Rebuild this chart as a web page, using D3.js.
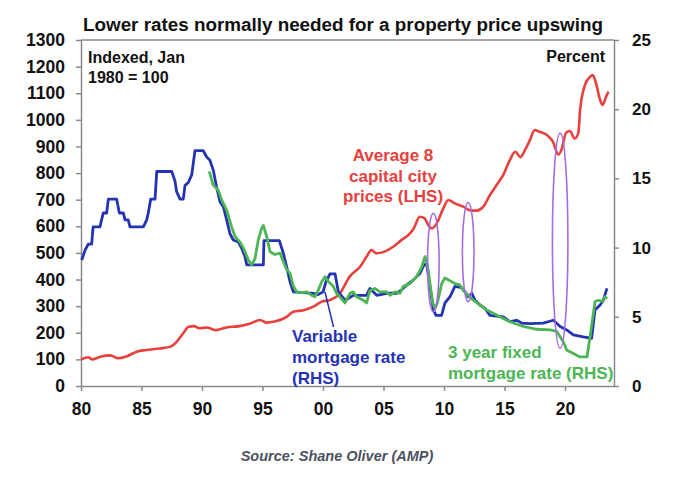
<!DOCTYPE html>
<html><head><meta charset="utf-8">
<script src="https://cdn.jsdelivr.net/npm/d3@7"></script>
<style>
html,body{margin:0;padding:0;background:#fff;}
svg text{font-family:"Liberation Sans",Arial,sans-serif;}
</style></head>
<body><svg id="c" width="675" height="485"></svg>
<script>
// ---- data ----
const priceYears = [1980.0,1980.6,1980.9,1981.6,1982.4,1983.1,1983.8,1984.6,1985.4,1986.5,1987.4,1987.9,1988.45,1988.9,1989.3,1989.8,1990.4,1991.1,1992.0,1993.1,1994.0,1994.8,1995.35,1996.0,1997.0,1997.55,1998.4,1999.2,1999.9,2000.6,2001.4,2002.2,2003.06,2003.6,2004.0,2004.4,2005.1,2005.8,2006.5,2007.05,2007.5,2008.0,2008.4,2008.7,2009.0,2009.4,2009.95,2010.35,2010.9,2011.6,2012.15,2012.7,2013.25,2013.8,2014.35,2014.9,2015.45,2015.9,2016.3,2016.7,2017.1,2017.5,2017.9,2018.5,2019.0,2019.45,2019.7,2020.1,2020.4,2020.8,2021.1,2021.25,2021.65,2022.07,2022.3,2022.6,2022.9,2023.1,2023.45,2023.6];
const priceIndex = [100,108,100,110,115,104,112,129,135,141,148,166,198,223,225,217,220,210,220,225,235,248,238,242,260,279,285,298,317,323,348,411,448,486,511,499,505,523,549,567,592,636,630,605,592,611,668,699,686,674,660,659,674,718,755,793,850,880,860,887,924,962,955,943,918,870,887,952,958,930,950,1037,1131,1162,1168,1131,1075,1056,1093,1106];

const varYears = [1980.06,1980.33,1980.6,1980.88,1981.0,1981.57,1981.7,1981.84,1982.12,1982.26,1982.95,1983.17,1983.5,1983.64,1983.9,1984.05,1985.15,1985.43,1985.56,1985.76,1986.12,1986.26,1987.5,1987.77,1987.9,1988.18,1988.45,1988.6,1988.87,1989.15,1989.28,1989.42,1990.1,1990.39,1990.66,1990.93,1991.2,1991.49,1991.76,1992.04,1992.31,1992.59,1993.0,1993.28,1993.55,1993.7,1995.07,1995.12,1996.39,1996.72,1997.0,1997.27,1997.55,1999.2,1999.6,2000.0,2000.25,2000.58,2001.0,2001.27,2001.82,2002.23,2002.5,2003.6,2003.88,2004.44,2005.26,2006.09,2006.5,2006.92,2007.46,2008.02,2008.35,2008.57,2008.84,2009.12,2009.34,2009.8,2010.08,2010.5,2010.9,2011.46,2011.74,2012.0,2012.3,2012.56,2012.98,2013.4,2013.8,2014.36,2014.9,2015.45,2016.0,2016.42,2017.1,2018.2,2019.04,2019.6,2020.14,2020.69,2021.5,2022.2,2022.48,2022.9,2023.17,2023.47];
const varRate = [9.1,9.8,10.25,10.25,11.5,11.5,12.0,12.5,12.5,13.5,13.5,12.5,12.5,12.0,12.0,11.5,11.5,12.0,12.5,13.5,13.5,15.5,15.5,14.8,14.05,13.5,13.5,14.5,14.7,15.25,16.1,17.0,17.0,16.55,16.3,15.6,14.4,13.3,12.95,12.0,11.0,10.55,10.4,9.95,9.35,8.75,8.75,10.5,10.5,9.6,8.6,7.55,6.8,6.7,6.6,6.8,7.55,8.1,8.1,6.8,6.2,6.4,6.55,6.55,7.05,6.55,6.7,6.7,6.95,7.3,7.65,8.15,8.75,8.8,7.2,5.5,5.1,5.1,6.0,6.45,7.2,7.1,6.8,6.45,6.7,6.2,5.85,5.6,5.1,5.05,5.0,4.65,4.75,4.55,4.5,4.55,4.75,4.3,4.05,3.7,3.55,3.45,5.5,5.85,6.2,7.05];

const fixYears = [1990.6,1990.93,1991.35,1991.63,1992.04,1992.45,1992.73,1993.14,1993.41,1993.83,1994.1,1994.38,1994.65,1994.93,1995.07,1995.35,1995.62,1996.03,1996.45,1996.72,1997.0,1997.27,1997.55,1997.83,1998.24,1998.65,1999.07,1999.34,1999.6,1999.9,2000.17,2000.44,2000.85,2001.13,2001.82,2002.23,2002.5,2002.78,2003.33,2003.6,2003.88,2004.3,2004.7,2005.26,2005.54,2005.95,2006.36,2006.64,2007.19,2007.74,2008.16,2008.43,2008.62,2008.84,2009.07,2009.26,2009.45,2009.81,2010.08,2010.5,2010.9,2011.32,2011.6,2012.0,2012.42,2012.98,2013.53,2014.07,2014.63,2015.18,2015.73,2016.55,2017.66,2018.76,2019.31,2019.86,2020.14,2020.69,2021.24,2021.82,2022.07,2022.48,2022.75,2023.03,2023.3,2023.47];
const fixRate = [15.5,14.5,14.15,13.45,12.7,11.5,10.8,10.4,10.0,9.1,8.75,9.2,10.55,11.4,11.6,10.8,9.7,9.5,9.6,9.0,8.4,8.15,7.2,6.8,6.75,6.8,6.55,6.45,6.9,7.55,7.9,7.55,7.2,6.7,6.0,6.7,6.8,6.45,6.2,6.0,6.9,7.05,6.8,6.8,6.55,6.8,6.7,7.2,7.4,7.9,8.6,9.35,8.8,7.4,6.0,5.6,6.0,7.4,7.8,7.6,7.4,7.3,6.9,6.55,6.2,5.85,5.5,5.25,5.0,4.75,4.55,4.3,4.1,4.05,3.95,3.2,2.6,2.35,2.1,2.1,3.55,6.1,6.2,6.1,6.45,6.3];

// highlight ellipses (year centre, RHS-rate centre, half-width in years, half-height in % points)
const ellYear = [2009.12, 2012.0, 2019.6];
const ellRate = [8.92, 9.68, 10.5];
const ellHalfW = [0.48, 0.48, 0.64];
const ellHalfH = [3.55, 3.58, 7.77];

const xTickYears = [1980,1985,1990,1995,2000,2005,2010,2015,2020];
const xTickLabels = ["80","85","90","95","00","05","10","15","20"];
const lhsTicks = d3.range(0,1301,100);
const rhsTicks = [0,5,10,15,20,25];

// ---- chart ----
const svg = d3.select("#c");
const L = 81, R = 614, T = 40, B = 386;
const x = d3.scaleLinear().domain([1980, 2024.05]).range([L, R]);
const yL = d3.scaleLinear().domain([0, 1300]).range([B, T]);
const yR = d3.scaleLinear().domain([0, 25]).range([B, T]);
const axisCol = "#8a8a8a";

svg.append("text").attr("x", 343).attr("y", 31).attr("text-anchor","middle")
  .attr("font-size", 17.5).attr("font-weight","bold").attr("fill","#111")
  .attr("textLength", 520).attr("lengthAdjust","spacingAndGlyphs")
  .text("Lower rates normally needed for a property price upswing");

// top border
svg.append("line").attr("x1",L).attr("x2",R).attr("y1",T).attr("y2",T).attr("stroke",axisCol).attr("stroke-width",1.5);

function styleAxis(g){
  g.select(".domain").attr("stroke",axisCol).attr("stroke-width",1.5);
  g.selectAll(".tick line").attr("stroke",axisCol).attr("stroke-width",1.5);
  g.selectAll(".tick text").attr("fill","#111").attr("font-weight","bold")
   .attr("font-family","'Liberation Sans',Arial,sans-serif");
}

const gl = svg.append("g").attr("transform",`translate(${L},0)`)
  .call(d3.axisLeft(yL).tickValues(lhsTicks).tickSize(5).tickSizeOuter(0).tickPadding(11).tickFormat(d3.format("d")));
styleAxis(gl); gl.selectAll(".tick text").attr("font-size",17.5);

const gr = svg.append("g").attr("transform",`translate(${R},0)`)
  .call(d3.axisRight(yR).tickValues(rhsTicks).tickSize(5).tickSizeOuter(0).tickPadding(13).tickFormat(d3.format("d")));
styleAxis(gr); gr.selectAll(".tick text").attr("font-size",17);

const gx = svg.append("g").attr("transform",`translate(0,${B})`)
  .call(d3.axisBottom(x).tickValues(xTickYears).tickSize(5).tickSizeOuter(0).tickPadding(12)
    .tickFormat((d,i)=>xTickLabels[i]));
styleAxis(gx); gx.selectAll(".tick text").attr("font-size",17.5);

// lines
const clip = svg.append("g");
const linePrice = d3.line().x((d,i)=>x(priceYears[i])).y(d=>yL(d)).curve(d3.curveMonotoneX);
const lineVar = d3.line().x((d,i)=>x(varYears[i])).y(d=>yR(d));
const lineFix = d3.line().x((d,i)=>x(fixYears[i])).y(d=>yR(d));

clip.append("path").attr("d", linePrice(priceIndex)).attr("fill","none")
  .attr("stroke","#e8403c").attr("stroke-width",2.6).attr("stroke-linejoin","round");
clip.append("path").attr("d", lineVar(varRate)).attr("fill","none")
  .attr("stroke","#2432b4").attr("stroke-width",2.8).attr("stroke-linejoin","round");
clip.append("path").attr("d", lineFix(fixRate)).attr("fill","none")
  .attr("stroke","#4cb554").attr("stroke-width",2.8).attr("stroke-linejoin","round");

// ellipses
ellYear.forEach((yr,i)=>{
  const cx = x(yr), cy = yR(ellRate[i]);
  svg.append("ellipse").attr("cx",cx).attr("cy",cy)
    .attr("rx", x(yr+ellHalfW[i]) - cx).attr("ry", yR(0) - yR(ellHalfH[i]))
    .attr("fill","none").attr("stroke","#a46ee0").attr("stroke-width",1.6);
});

// annotations
function multi(lines, xx, y0, dy, anchor, color, size){
  const t = svg.append("text").attr("text-anchor",anchor).attr("fill",color)
    .attr("font-weight","bold").attr("font-size",size);
  lines.forEach((s,i)=>t.append("tspan").attr("x",xx).attr("y",y0+i*dy).text(s));
}
multi(["Indexed, Jan","1980 = 100"], 88, 63, 20, "start", "#111", 16);
multi(["Percent"], 605, 62, 20, "end", "#111", 16);
multi(["Average 8","capital city","prices (LHS)"], 393, 161, 20.5, "middle", "#e8403c", 17);
multi(["Variable","mortgage rate","(RHS)"], 292, 342, 21, "start", "#2432b4", 17);
multi(["3 year fixed","mortgage rate (RHS)"], 448, 358, 20.5, "start", "#4cb554", 17);

svg.append("line").attr("x1",325).attr("y1",292).attr("x2",333.5).attr("y2",327)
  .attr("stroke","#2432b4").attr("stroke-width",1.5);

svg.append("text").attr("x",337).attr("y",461).attr("text-anchor","middle")
  .attr("font-family","Roboto, 'Open Sans', sans-serif").attr("font-style","italic")
  .attr("font-weight",600).attr("font-size",14.5).attr("fill","#4b5260")
  .text("Source: Shane Oliver (AMP)");
</script></body></html>
